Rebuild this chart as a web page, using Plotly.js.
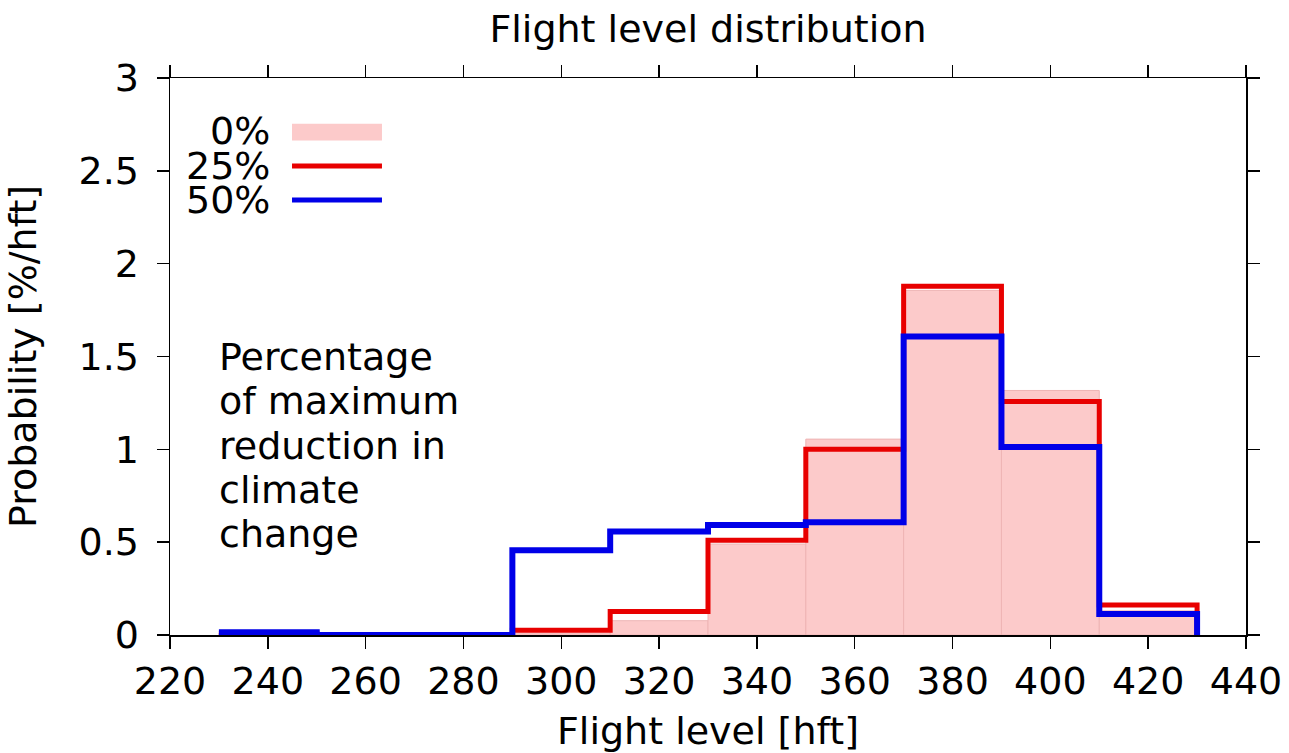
<!DOCTYPE html>
<html>
<head>
<meta charset="utf-8">
<script src="https://cdn.plot.ly/plotly-3.0.1.min.js"></script>
<style>html,body{margin:0;padding:0;background:#fff;}#chart{width:1289px;height:753px;}</style>
</head>
<body>
<div id="chart"></div>
<script>
// Bin edges (flight level, hft) and histogram values (%/hft)
const binEdges = [230, 250, 270, 290, 310, 330, 350, 370, 390, 410, 430];
const seriesNames = ["0%", "25%", "50%"];
const prob0 = [0.01, 0, 0, 0.01, 0.077, 0.49, 1.055, 1.856, 1.317, 0.13];
const prob25 = [0.01, 0, 0, 0.025, 0.126, 0.51, 1.0, 1.878, 1.258, 0.162];
const prob50 = [0.015, 0, 0, 0.457, 0.557, 0.593, 0.607, 1.608, 1.012, 0.113];
const xTicks = [220, 240, 260, 280, 300, 320, 340, 360, 380, 400, 420, 440];
const yTicks = [0, 0.5, 1, 1.5, 2, 2.5, 3];
const noteLines = ["Percentage", "of maximum", "reduction in", "climate", "change"];

const FONT = "DejaVu Sans, Verdana, sans-serif";
const FS = 38;
const PINK = "rgb(252,202,202)";
const RED = "#e80000";
const BLUE = "#0000e8";

const centers = prob0.map((_, i) => (binEdges[i] + binEdges[i + 1]) / 2);
const widths = prob0.map((_, i) => binEdges[i + 1] - binEdges[i]);

function stepTrace(vals, name, color, width) {
  return {
    type: "scatter", mode: "lines", name: name,
    x: binEdges.slice(),
    y: vals.concat([0]),
    line: {shape: "hv", color: color, width: width},
    showlegend: false, hoverinfo: "skip"
  };
}

const traces = [
  {
    type: "bar", name: seriesNames[0], x: centers, y: prob0, width: widths,
    marker: {color: PINK, line: {color: "rgb(238,180,180)", width: 1}},
    showlegend: false, hoverinfo: "skip"
  },
  stepTrace(prob25, seriesNames[1], RED, 5),
  stepTrace(prob50, seriesNames[2], BLUE, 6)
];

// legend drawn manually (text right-aligned, sample to the right)
const legY = [0.905, 0.842, 0.781];
const annotations = seriesNames.map((n, i) => ({
  xref: "paper", yref: "paper", x: 0.095, y: legY[i], xanchor: "right", yanchor: "middle",
  text: n, showarrow: false, font: {family: FONT, size: FS, color: "#000"}
}));
noteLines.forEach((t, i) => {
  annotations.push({
    xref: "paper", yref: "paper", x: 0.044, y: 0.499 - i * 0.0795, xanchor: "left", yanchor: "middle",
    align: "left", text: t, showarrow: false, font: {family: FONT, size: FS, color: "#000"}
  });
});

const shapes = [
  {type: "rect", xref: "paper", yref: "paper", x0: 0.1134, x1: 0.197, y0: 0.888, y1: 0.918,
   fillcolor: PINK, line: {width: 0}},
  {type: "line", xref: "paper", yref: "paper", x0: 0.1134, x1: 0.197, y0: legY[1], y1: legY[1],
   line: {color: RED, width: 5}},
  {type: "line", xref: "paper", yref: "paper", x0: 0.1134, x1: 0.197, y0: legY[2], y1: legY[2],
   line: {color: BLUE, width: 5}}
];

const layout = {
  width: 1289, height: 753,
  margin: {l: 170, r: 43, t: 78, b: 118},
  paper_bgcolor: "#fff", plot_bgcolor: "#fff",
  font: {family: FONT, color: "#000", size: FS},
  title: {text: "Flight level distribution", font: {family: FONT, size: FS, color: "#000"},
          xref: "paper", x: 0.5, xanchor: "center", y: 0.962, yanchor: "middle"},
  bargap: 0,
  xaxis: {
    range: [220, 440], tickvals: xTicks, ticktext: xTicks.map(String),
    ticks: "outside", ticklen: 12, tickwidth: 1.5, tickcolor: "#000",
    showline: true, linecolor: "#000", linewidth: 1.5, mirror: "ticks",
    showgrid: false, zeroline: false,
    tickfont: {family: FONT, size: FS, color: "#000"},
    title: {text: "Flight level [hft]", font: {family: FONT, size: FS, color: "#000"}, standoff: 16}
  },
  yaxis: {
    range: [0, 3], tickvals: yTicks, ticktext: yTicks.map(String),
    ticks: "outside", ticklen: 12, tickwidth: 1.5, tickcolor: "#000",
    showline: true, linecolor: "#000", linewidth: 1.5, mirror: "ticks",
    showgrid: false, zeroline: false, ticklabelstandoff: 10,
    tickfont: {family: FONT, size: FS, color: "#000"},
    title: {text: "Probability [%/hft]", font: {family: FONT, size: FS, color: "#000"}, standoff: 30}
  },
  annotations: annotations,
  shapes: shapes
};

Plotly.newPlot("chart", traces, layout, {displayModeBar: false, staticPlot: true});
</script>
</body>
</html>
